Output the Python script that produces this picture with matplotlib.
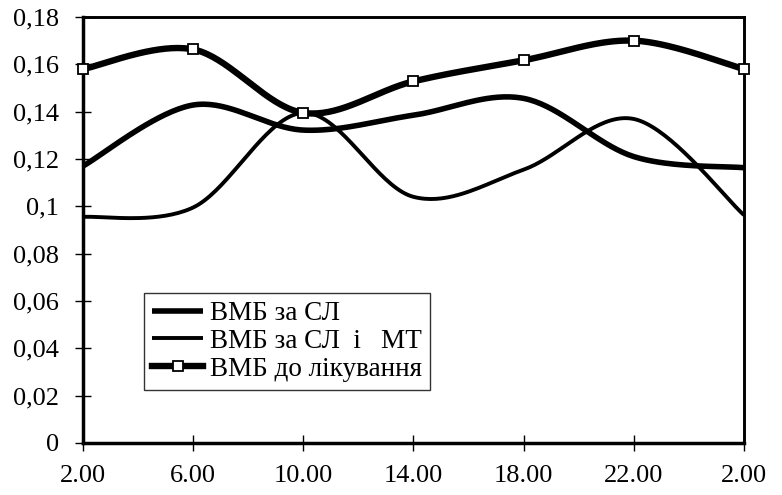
import numpy as np
import matplotlib
matplotlib.use("Agg")
from matplotlib import pyplot as plt

# hours of the day (last point is 2.00 of the next day)
hours = ["2.00", "6.00", "10.00", "14.00", "18.00", "22.00", "2.00"]
vmb_sl = [0.117, 0.1428, 0.1322, 0.1385, 0.1456, 0.121, 0.1163]
vmb_sl_mt = [0.0955, 0.0995, 0.1395, 0.104, 0.1155, 0.1369, 0.0963]
vmb_before = [0.158, 0.1663, 0.1395, 0.1528, 0.1617, 0.170, 0.158]
labels = ["ВМБ за СЛ", "ВМБ за СЛ  і   МТ", "ВМБ до лікування"]


# Excel-like smoothed line (Catmull-Rom through the points)
def smooth(x, y, n=40):
    x = np.asarray(x, float)
    y = np.asarray(y, float)
    px = np.concatenate([[x[0]], x, [x[-1]]])
    py = np.concatenate([[y[0]], y, [y[-1]]])
    xs, ys = [], []
    t = np.linspace(0, 1, n)
    h00 = 2*t**3 - 3*t**2 + 1
    h10 = t**3 - 2*t**2 + t
    h01 = -2*t**3 + 3*t**2
    h11 = t**3 - t**2
    for i in range(1, len(px) - 2):
        mx0 = (px[i+1] - px[i-1]) / 2
        mx1 = (px[i+2] - px[i]) / 2
        my0 = (py[i+1] - py[i-1]) / 2
        my1 = (py[i+2] - py[i]) / 2
        xs.append(h00*px[i] + h10*mx0 + h01*px[i+1] + h11*mx1)
        ys.append(h00*py[i] + h10*my0 + h01*py[i+1] + h11*my1)
    return np.concatenate(xs), np.concatenate(ys)


plt.rcParams['font.family'] = ['Liberation Serif', 'DejaVu Serif']

fig = plt.figure(figsize=(7.82, 4.95), dpi=100)
ax = fig.add_axes([0.1061, 0.1051, 0.8453, 0.8606])

x = np.arange(len(hours))

sx, sy = smooth(x, vmb_sl)
ax.plot(sx, sy, color='black', lw=4.0, solid_capstyle='butt', label=labels[0])
sx, sy = smooth(x, vmb_sl_mt)
ax.plot(sx, sy, color='black', lw=2.8, solid_capstyle='butt', label=labels[1])
sx, sy = smooth(x, vmb_before)
ax.plot(sx, sy, color='black', lw=4.6, solid_capstyle='butt')
ax.plot(x, vmb_before, ls='none', marker='s', ms=7.5, mfc='white', mec='black',
        mew=1.3, clip_on=False, zorder=5)
# proxy for legend entry with marker
ax.plot([], [], color='black', lw=4.6, marker='s', ms=7.5, mfc='white',
        mec='black', mew=1.3, label=labels[2])

ax.set_xlim(0, len(hours) - 1)
ax.set_ylim(0, 0.18)
ax.set_xticks(x)
ax.set_xticklabels(hours)
yt = np.arange(0, 0.181, 0.02)
ax.set_yticks(yt)
ax.set_yticklabels(["0", "0,02", "0,04", "0,06", "0,08", "0,1", "0,12",
                    "0,14", "0,16", "0,18"])
ax.tick_params(axis='both', direction='inout', length=12, width=1,
               labelsize=19, colors='black')
ax.tick_params(axis='x', pad=10)
ax.tick_params(axis='y', pad=11)

for side in ['left', 'bottom']:
    ax.spines[side].set_linewidth(2.5)
for side in ['top', 'right']:
    ax.spines[side].set_linewidth(2.1)

leg = ax.legend(loc='upper left', bbox_to_anchor=(0.092, 0.352),
                fontsize=19.5, frameon=True, fancybox=False, edgecolor='black',
                handlelength=1.9, handletextpad=0.25, labelspacing=0.1,
                borderpad=0.3, borderaxespad=0)
leg.get_frame().set_linewidth(1.0)

fig.savefig('out.png', dpi=100)
